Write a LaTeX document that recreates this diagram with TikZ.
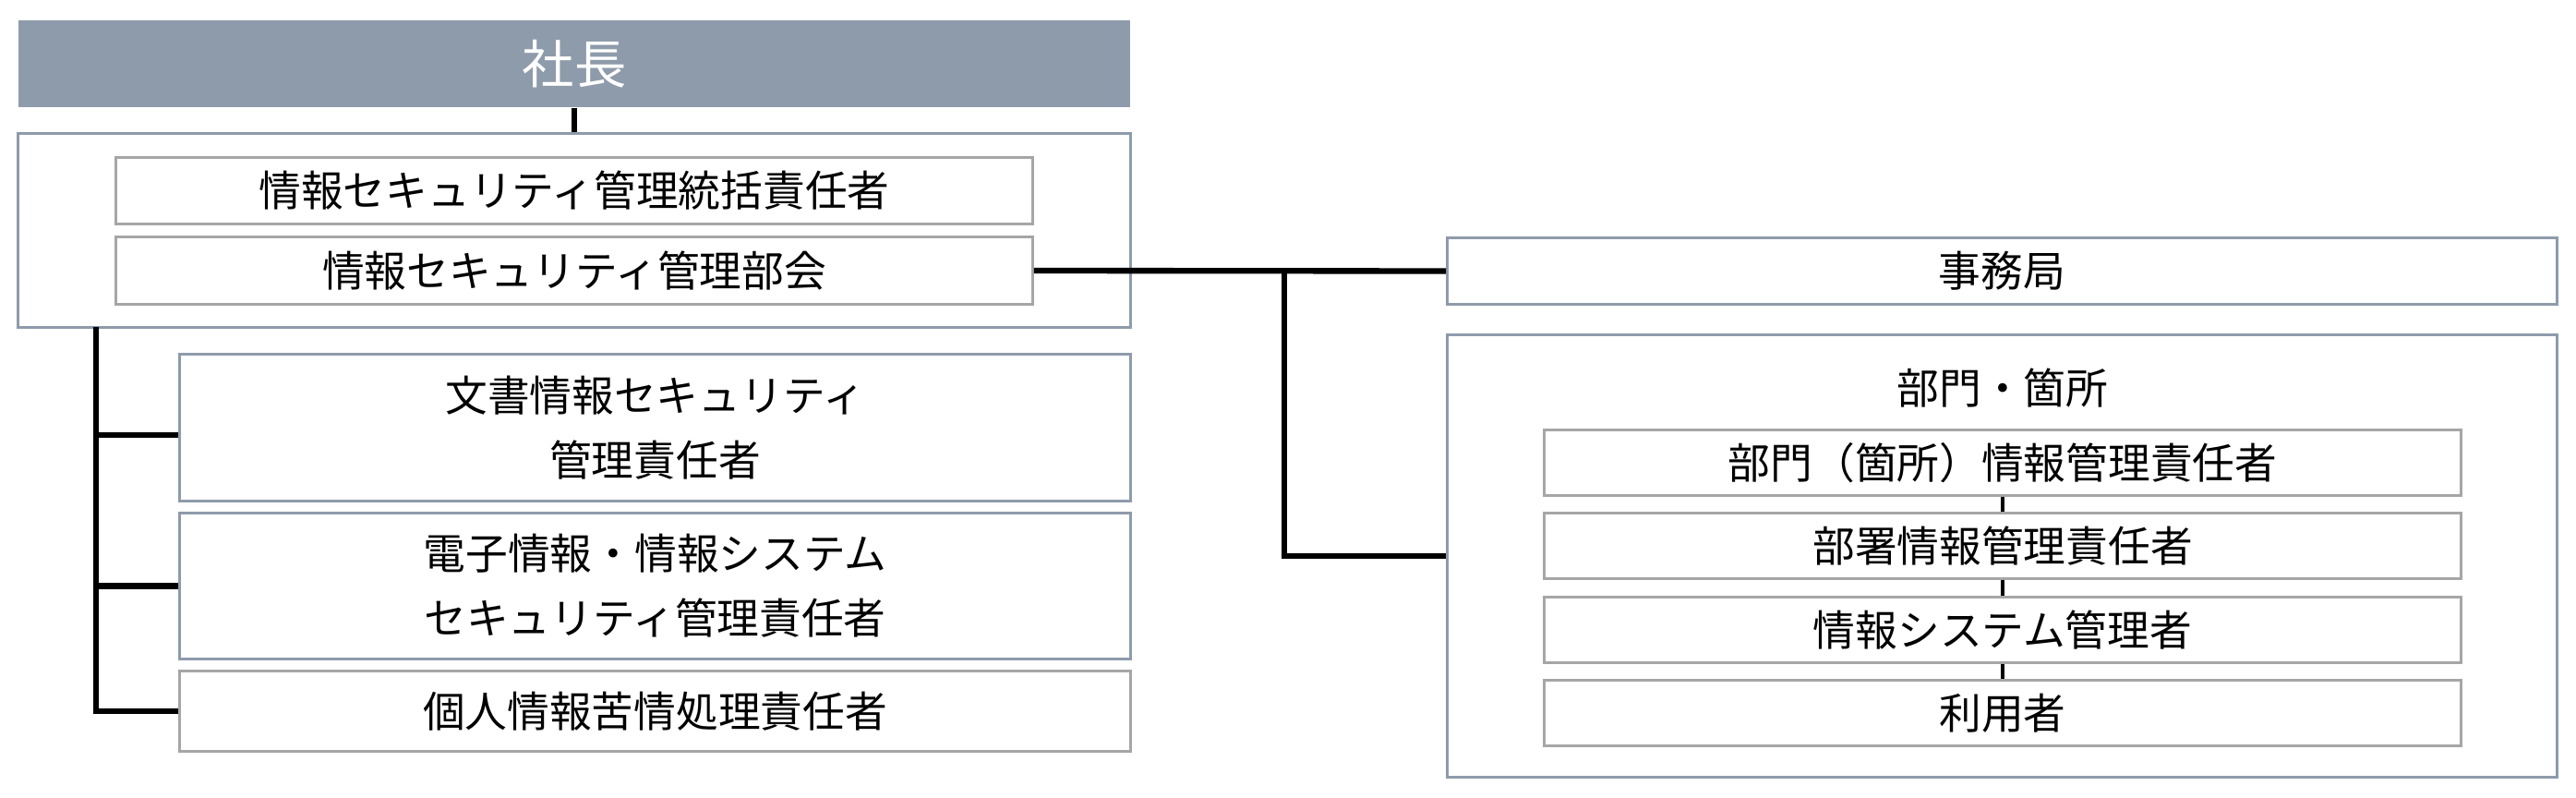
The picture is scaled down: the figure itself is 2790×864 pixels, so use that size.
\documentclass[tikz,border=0pt]{standalone}
\usepackage{fontspec}
\setmainfont{Noto Sans CJK JP}
\usetikzlibrary{calc}
\definecolor{slate}{HTML}{8E9BAB}
\definecolor{frame}{HTML}{A6A6A6}
\tikzset{
	groupbox/.style={draw=slate, line width=0.85pt, inner sep=0pt},
	rolebox/.style={draw=frame, line width=0.85pt, inner sep=0pt, fill=white, align=center, font=\fontsize{13pt}{20pt}\selectfont},
	link/.style={line width=1.8pt},
	sublink/.style={line width=1.1pt},
}
\begin{document}
\begin{tikzpicture}[x=0.01cm, y=-0.01cm]
		%%%%% START %%%%%
		\useasboundingbox (0, 0) rectangle (2790, 864);
		
		\node[fill=slate, text=white, minimum width=12.04cm, minimum height=0.94cm, font=\fontsize{16pt}{20pt}\selectfont] (president) at (622, 69) {社長};
		
		\node[groupbox, minimum width=12.04cm, minimum height=2.09cm] (topgroup) at (622, 249.5) {};
		\node[rolebox, minimum width=9.92cm, minimum height=0.71cm] (chief) at (622, 206.5) {情報セキュリティ管理統括責任者};
		\node[rolebox, minimum width=9.92cm, minimum height=0.72cm] (council) at (622, 293) {情報セキュリティ管理部会};
		
		\node[rolebox, draw=slate, minimum width=10.29cm, minimum height=1.58cm] (docsec) at (709.5, 463) {文書情報セキュリティ\\管理責任者};
		\node[rolebox, draw=slate, minimum width=10.29cm, minimum height=1.57cm] (elecsec) at (709.5, 634.5) {電子情報・情報システム\\セキュリティ管理責任者};
		\node[rolebox, minimum width=10.29cm, minimum height=0.86cm] (privacy) at (709.5, 770) {個人情報苦情処理責任者};
		
		\node[rolebox, draw=slate, minimum width=12.01cm, minimum height=0.71cm] (office) at (2168.5, 293.5) {事務局};
		\node[groupbox, minimum width=12.01cm, minimum height=4.78cm] (dept) at (2168.5, 602) {};
		\node[font=\fontsize{13pt}{20pt}\selectfont] (depttitle) at (2169, 420) {部門・箇所};
		\node[rolebox, minimum width=9.92cm, minimum height=0.70cm] (deptchief) at (2169, 501) {部門（箇所）情報管理責任者};
		\node[rolebox, minimum width=9.92cm, minimum height=0.70cm] (sectchief) at (2169, 591) {部署情報管理責任者};
		\node[rolebox, minimum width=9.92cm, minimum height=0.70cm] (sysadmin) at (2169, 682) {情報システム管理者};
		\node[rolebox, minimum width=9.92cm, minimum height=0.70cm] (users) at (2169, 772) {利用者};
		
		\draw[link] (president.south) -- (topgroup.north);
		
		\coordinate (trunk) at (104, 354);
		\coordinate (docjoin) at ($(docsec.west)+(0, 8)$);
		\draw[link] (trunk) |- (privacy.west);
		\draw[link] (trunk |- docjoin) -- (docjoin);
		\draw[link] (trunk |- elecsec.west) -- (elecsec.west);
		
		\coordinate (split) at (1391, 293);
		\draw[link] (council.east) -- (office.west);
		\draw[link] (split) |- (dept.west);
		
		\draw[sublink] (deptchief.south) -- (sectchief.north);
		\draw[sublink] (sectchief.south) -- (sysadmin.north);
		\draw[sublink] (sysadmin.south) -- (users.north);
		%%%%% END %%%%%
	\end{tikzpicture}
\end{document}
